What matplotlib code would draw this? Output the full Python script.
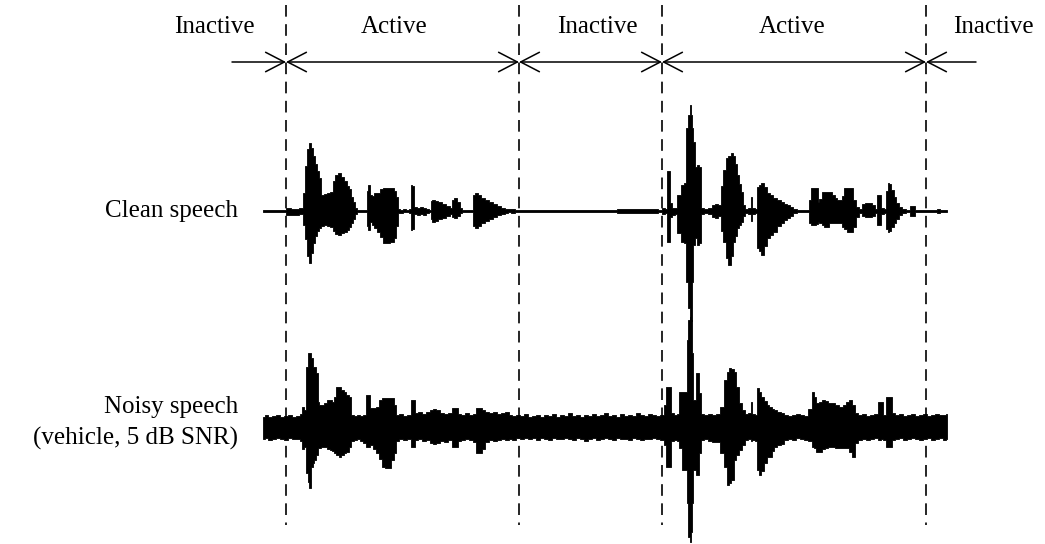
import matplotlib
matplotlib.use("Agg")
import matplotlib.pyplot as plt
import numpy as np

plt.rcParams['font.family'] = ['Liberation Serif', 'DejaVu Serif']

# segment boundaries (time axis in pixels of the original trace)
bounds = [286, 519, 662, 926]
seg_labels = ["Inactive", "Active", "Inactive", "Active", "Inactive"]
seg_label_x = [214, 394, 597, 792, 993]

# clean speech envelope: time, upper extent, lower extent
clean_t = [263, 285, 287, 295, 302, 304, 306, 308, 310, 312, 314, 316, 318, 320, 322, 325, 328, 331,
           334, 336, 339, 342, 345, 348, 350, 352, 354, 356, 358, 366, 367, 369, 371, 373, 375, 378,
           381, 384, 388, 392, 395, 397, 399, 401, 404, 408, 410, 411, 413, 415, 418, 421, 424, 427,
           430, 431, 433, 436, 440, 444, 448, 451, 453, 455, 458, 461, 463, 472, 474, 476, 479, 483,
           487, 491, 495, 499, 503, 506, 509, 513, 517, 615, 618, 640, 655, 660, 663, 666, 667, 669,
           671, 673, 676, 678, 680, 682, 685, 687, 689, 690, 691, 692, 694, 696, 698, 700, 702, 706,
           710, 713, 716, 719, 722, 724, 727, 729, 732, 734, 736, 738, 740, 742, 744, 746, 750, 751,
           753, 756, 758, 760, 762, 765, 768, 771, 775, 779, 782, 785, 788, 791, 794, 800, 808, 810,
           812, 815, 817, 818, 820, 823, 825, 827, 830, 833, 836, 838, 840, 843, 845, 848, 852, 854,
           857, 860, 863, 866, 870, 873, 876, 878, 880, 882, 885, 887, 888, 890, 892, 895, 897, 900,
           903, 908, 912, 914, 916, 935, 938, 941, 947]
clean_up = [1, 1, 3, 2, 3, 18, 45, 62, 68, 63, 55, 47, 40, 33, 16, 17, 18, 19,
            30, 36, 38, 34, 30, 25, 22, 14, 9, 3, 1, 1, 20, 26, 16, 15, 18, 18,
            22, 23, 23, 23, 20, 14, 2, 1, 2, 1, 2, 26, 25, 4, 3, 4, 3, 2,
            1, 10, 11, 10, 9, 7, 5, 3, 11, 13, 9, 3, 1, 1, 16, 18, 16, 13,
            11, 9, 7, 5, 3, 2, 2, 2, 1, 1, 2, 2, 2, 1, 3, 2, 40, 40,
            8, 3, 3, 16, 16, 26, 28, 83, 96, 106, 96, 83, 69, 44, 46, 44, 3, 2,
            3, 6, 7, 6, 25, 41, 53, 55, 58, 55, 47, 36, 27, 19, 6, 2, 3, 14,
            3, 2, 24, 26, 28, 24, 18, 16, 13, 11, 9, 7, 6, 4, 2, 1, 1, 11,
            23, 23, 23, 9, 12, 19, 19, 19, 19, 16, 13, 11, 11, 15, 23, 23, 23, 11,
            4, 2, 7, 8, 8, 6, 2, 16, 16, 3, 2, 20, 28, 27, 21, 14, 8, 4,
            2, 1, 5, 5, 1, 1, 2, 1, 1]
clean_dn = [1, 1, 4, 4, 3, 14, 28, 45, 52, 42, 32, 25, 20, 17, 15, 14, 15, 16,
            20, 23, 24, 22, 21, 19, 16, 12, 8, 3, 1, 1, 15, 19, 11, 14, 17, 21,
            26, 32, 32, 31, 27, 15, 2, 2, 1, 1, 2, 19, 18, 3, 4, 3, 4, 2,
            1, 8, 11, 10, 8, 7, 5, 3, 6, 7, 5, 2, 1, 1, 15, 17, 15, 12,
            10, 8, 6, 4, 3, 2, 1, 2, 1, 1, 2, 2, 2, 1, 3, 2, 31, 31,
            6, 4, 3, 22, 22, 31, 32, 71, 97, 124, 110, 71, 34, 27, 34, 32, 3, 2,
            3, 6, 7, 5, 20, 31, 47, 54, 45, 31, 25, 17, 14, 11, 5, 2, 3, 10,
            3, 2, 37, 40, 44, 35, 27, 24, 21, 15, 12, 9, 7, 5, 2, 1, 1, 12,
            14, 14, 13, 11, 12, 14, 16, 16, 12, 12, 12, 12, 12, 16, 18, 21, 21, 16,
            6, 2, 5, 6, 6, 5, 2, 14, 14, 3, 2, 18, 21, 20, 16, 12, 8, 4,
            2, 1, 5, 5, 1, 1, 2, 1, 1]

# noisy speech (vehicle, 5 dB SNR) envelope
noisy_t = [263, 266, 270, 274, 278, 282, 286, 290, 294, 298, 301, 303, 305, 307, 308, 310, 312, 313,
           315, 317, 318, 320, 322, 325, 328, 331, 333, 335, 337, 340, 342, 345, 347, 350, 352, 355,
           358, 361, 364, 367, 369, 371, 374, 377, 380, 383, 386, 389, 392, 395, 397, 401, 405, 409,
           412, 414, 416, 420, 424, 428, 431, 434, 438, 442, 446, 450, 453, 456, 459, 463, 467, 471,
           475, 477, 480, 483, 487, 491, 495, 499, 503, 507, 510, 514, 518, 522, 526, 530, 534, 538,
           542, 546, 550, 554, 558, 562, 566, 570, 574, 578, 582, 586, 590, 594, 598, 602, 606, 610,
           614, 618, 622, 626, 630, 634, 638, 642, 646, 650, 654, 658, 662, 665, 667, 670, 672, 675,
           678, 679, 681, 683, 686, 687, 689, 690, 691, 692, 694, 697, 700, 702, 706, 710, 714, 718,
           722, 725, 728, 730, 732, 735, 737, 740, 743, 746, 750, 751, 753, 756, 758, 760, 762, 765,
           768, 770, 773, 775, 779, 782, 786, 790, 794, 798, 802, 806, 810, 813, 815, 817, 820, 823,
           826, 830, 833, 837, 841, 844, 847, 850, 853, 856, 860, 864, 868, 872, 876, 880, 882, 884,
           887, 890, 893, 897, 901, 905, 909, 913, 917, 921, 925, 929, 933, 937, 941, 945, 947]
noisy_up = [10, 12, 10, 11, 12, 10, 11, 12, 10, 11, 13, 20, 17, 60, 74, 74, 69, 60,
            60, 54, 25, 22, 22, 24, 27, 27, 25, 30, 40, 40, 37, 35, 32, 30, 12, 11,
            12, 11, 12, 32, 32, 19, 19, 20, 27, 29, 29, 29, 29, 22, 12, 13, 11, 12,
            27, 27, 14, 15, 13, 15, 17, 18, 17, 14, 13, 14, 19, 19, 13, 12, 14, 12,
            13, 19, 19, 17, 15, 14, 15, 13, 14, 15, 12, 11, 12, 11, 13, 10, 11, 12,
            10, 12, 11, 13, 10, 12, 11, 14, 11, 12, 10, 12, 11, 13, 11, 12, 14, 11,
            12, 10, 13, 11, 12, 11, 14, 12, 11, 13, 12, 11, 12, 22, 40, 40, 14, 12,
            13, 35, 35, 35, 35, 87, 107, 110, 107, 74, 27, 54, 34, 13, 12, 13, 12, 13,
            20, 47, 55, 59, 58, 55, 40, 24, 17, 13, 14, 25, 13, 12, 39, 35, 30, 26,
            22, 20, 18, 17, 15, 14, 12, 11, 12, 13, 12, 11, 18, 35, 30, 24, 25, 27,
            26, 24, 24, 22, 20, 22, 25, 27, 22, 14, 12, 13, 11, 12, 13, 25, 25, 12,
            30, 30, 14, 12, 13, 11, 12, 13, 11, 12, 13, 11, 12, 13, 12, 12, 13]
noisy_dn = [12, 11, 13, 12, 11, 12, 13, 11, 12, 12, 14, 22, 20, 46, 55, 61, 40, 36,
            33, 28, 21, 21, 20, 20, 22, 23, 24, 26, 28, 30, 28, 26, 25, 20, 14, 13,
            12, 14, 16, 20, 20, 18, 22, 26, 32, 40, 41, 41, 33, 26, 14, 12, 13, 12,
            20, 20, 13, 12, 14, 13, 16, 17, 16, 14, 15, 13, 20, 20, 14, 13, 12, 13,
            15, 26, 26, 22, 15, 13, 14, 13, 12, 13, 12, 13, 11, 12, 11, 12, 11, 13,
            11, 12, 13, 11, 12, 12, 11, 12, 13, 11, 12, 14, 12, 11, 13, 12, 11, 12,
            13, 11, 12, 12, 13, 11, 12, 13, 12, 12, 11, 12, 13, 18, 40, 40, 14, 13,
            14, 21, 21, 43, 43, 76, 110, 115, 105, 76, 43, 48, 26, 13, 12, 14, 15, 15,
            26, 40, 58, 56, 53, 33, 28, 23, 18, 13, 12, 14, 13, 14, 43, 48, 44, 36,
            30, 30, 24, 20, 18, 17, 13, 12, 13, 11, 12, 13, 14, 20, 21, 25, 25, 22,
            21, 20, 20, 21, 21, 21, 21, 25, 30, 16, 13, 12, 13, 12, 11, 13, 12, 13,
            20, 20, 13, 12, 11, 13, 12, 11, 12, 13, 12, 11, 13, 12, 11, 13, 12]

clean_base = 211
noisy_base = 427
arrow_y = 62

fig = plt.figure(figsize=(10.45, 5.44), dpi=100)
ax = fig.add_axes([0, 0, 1, 1])
ax.set_xlim(0, 1045)
ax.set_ylim(544, 0)
ax.axis('off')

# waveforms
ct = np.array(clean_t)
ax.fill_between(ct, clean_base - np.array(clean_up), clean_base + np.array(clean_dn),
                step='mid', color='black', lw=0.6)
nt = np.array(noisy_t)
ax.fill_between(nt, noisy_base - np.array(noisy_up), noisy_base + np.array(noisy_dn),
                step='mid', color='black', lw=0.6)

# dashed boundaries
ax.vlines(bounds, 5, 525, colors='black', linestyles=(0, (7, 4.5)), lw=1.2)

# arrows between boundaries
ends = [232] + bounds + [976]
for i in range(len(ends) - 1):
    style = '<->'
    if i == 0:
        style = '->'
    elif i == len(ends) - 2:
        style = '<-'
    ax.annotate('', xy=(ends[i + 1], arrow_y), xytext=(ends[i], arrow_y),
                arrowprops=dict(arrowstyle=style + ',head_length=1.35,head_width=0.7',
                                lw=1.1, color='black', shrinkA=0, shrinkB=0,
                                mutation_scale=10))

for lab, x in zip(seg_labels, seg_label_x):
    ax.text(x, 27, lab, ha='center', va='center', fontsize=18)

ax.text(238, clean_base, "Clean speech", ha='right', va='center', fontsize=18)
ax.text(238, noisy_base - 4, "Noisy speech\n(vehicle, 5 dB SNR)", ha='right', va='center',
        fontsize=18, multialignment='right', linespacing=1.45)

fig.savefig('out.png', dpi=100, facecolor='white')
